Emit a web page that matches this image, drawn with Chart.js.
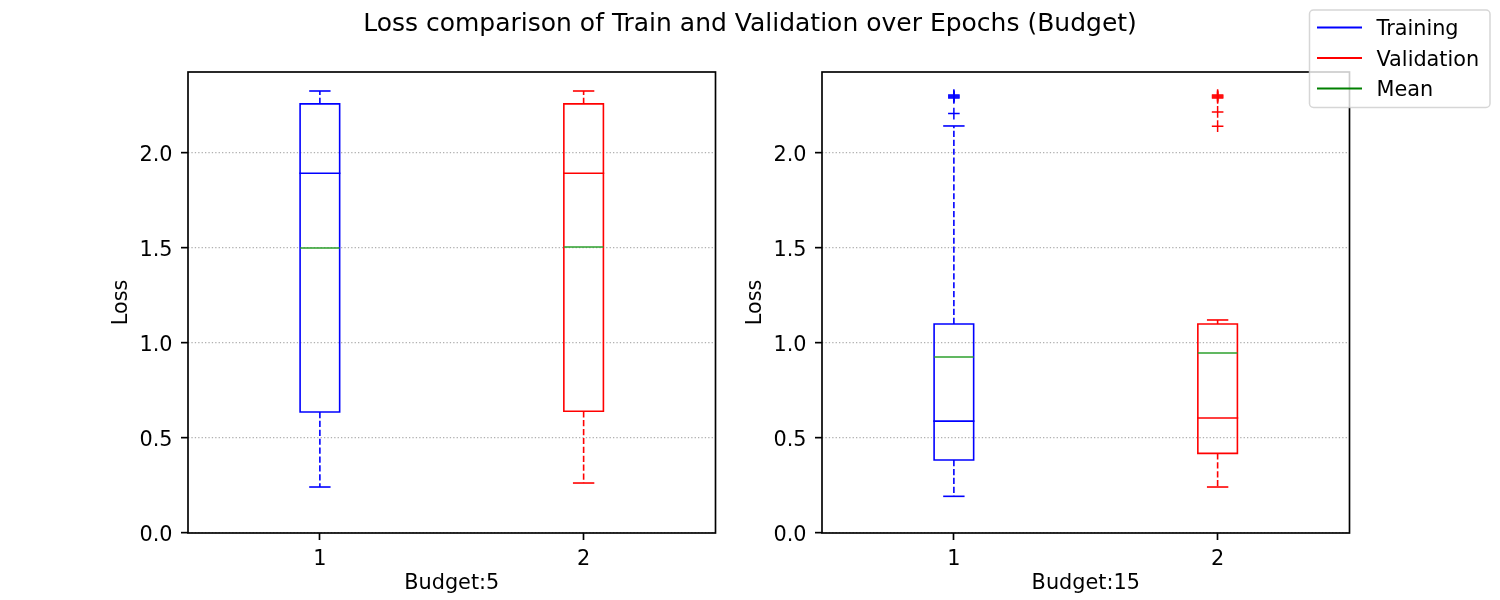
<!DOCTYPE html>
<html><head><meta charset="utf-8">
<script src="https://cdn.jsdelivr.net/npm/chart.js@4.4.0/dist/chart.umd.min.js"></script>
<style>
html,body{margin:0;padding:0;background:#fff;}
#wrap{position:relative;width:1500px;height:600px;overflow:hidden;background:#fff;}
canvas{position:absolute;left:0;top:0;}
</style></head><body>
<div id="wrap"><canvas id="c1" width="1500" height="600"></canvas><canvas id="c2" width="1500" height="600"></canvas></div>
<script>
// ---------------- data ----------------
const titleText = 'Loss comparison of Train and Validation over Epochs (Budget)';
const categories = [1, 2];
const categoryLabels = ['1', '2'];
const seriesNames = ['Training', 'Validation'];
const legendLabels = ['Training', 'Validation', 'Mean'];
const yTicks = [0, 0.5, 1.0, 1.5, 2.0];
const yLabel = 'Loss';
const xLabels = ['Budget:5', 'Budget:15'];

// Budget 5 (index 0 = Training, 1 = Validation)
const b5WhiskerLow  = [0.242, 0.263];
const b5Q1          = [0.637, 0.641];
const b5Median      = [1.893, 1.893];
const b5Q3          = [2.258, 2.258];
const b5WhiskerHigh = [2.326, 2.326];
const b5Mean        = [1.500, 1.505];
const b5TrainOutliers = [];
const b5ValOutliers   = [];

// Budget 15
const b15WhiskerLow  = [0.193, 0.242];
const b15Q1          = [0.384, 0.419];
const b15Median      = [0.589, 0.605];
const b15Q3          = [1.100, 1.100];
const b15WhiskerHigh = [2.142, 1.121];
const b15Mean        = [0.926, 0.947];
const b15TrainOutliers = [2.207, 2.289, 2.295, 2.300, 2.305];
const b15ValOutliers   = [2.141, 2.216, 2.289, 2.295, 2.300, 2.305];

// ---------------- styles ----------------
const Y_MIN = 0, Y_MAX = 2.426, X_MIN = 0.5, X_MAX = 2.5;
const BOX_WIDTH = 0.15, CAP_WIDTH = 0.075;
const SERIES_COLORS = ['#0000ff', '#ff0000'];
const MEAN_COLOR = '#2ca02c';
const LEGEND_COLORS = ['#0000ff', '#ff0000', '#008000'];
const FONT = 'DejaVu Sans';
const FS = 20.8;

Chart.defaults.font.family = FONT;
Chart.defaults.font.size = FS;
Chart.defaults.color = '#000';

function boxPlugin(stats) {
  return {
    id: 'boxes',
    afterDatasetsDraw(chart) {
      const {ctx, scales: {x, y}} = chart;
      ctx.save();
      for (let i = 0; i < categories.length; i++) {
        const c = SERIES_COLORS[i];
        const xc = x.getPixelForValue(categories[i]);
        const xl = x.getPixelForValue(categories[i] - BOX_WIDTH / 2);
        const xr = x.getPixelForValue(categories[i] + BOX_WIDTH / 2);
        const cl = x.getPixelForValue(categories[i] - CAP_WIDTH / 2);
        const cr = x.getPixelForValue(categories[i] + CAP_WIDTH / 2);
        const yLo = y.getPixelForValue(stats.lo[i]);
        const yQ1 = y.getPixelForValue(stats.q1[i]);
        const yMed = y.getPixelForValue(stats.med[i]);
        const yQ3 = y.getPixelForValue(stats.q3[i]);
        const yHi = y.getPixelForValue(stats.hi[i]);
        const yMean = y.getPixelForValue(stats.mean[i]);
        ctx.strokeStyle = c;
        // whiskers (dashed)
        ctx.lineWidth = 1.6;
        ctx.lineCap = 'butt';
        ctx.setLineDash([6.2, 2.7]);
        ctx.beginPath(); ctx.moveTo(xc, yQ1); ctx.lineTo(xc, yLo); ctx.stroke();
        ctx.beginPath(); ctx.moveTo(xc, yQ3); ctx.lineTo(xc, yHi); ctx.stroke();
        ctx.setLineDash([]);
        ctx.lineCap = 'square';
        ctx.lineWidth = 1.6;
        // caps
        ctx.beginPath(); ctx.moveTo(cl, yLo); ctx.lineTo(cr, yLo); ctx.stroke();
        ctx.beginPath(); ctx.moveTo(cl, yHi); ctx.lineTo(cr, yHi); ctx.stroke();
        // box
        ctx.lineJoin = 'miter';
        ctx.beginPath(); ctx.rect(xl, yQ3, xr - xl, yQ1 - yQ3); ctx.stroke();
        // median
        ctx.beginPath(); ctx.moveTo(xl, yMed); ctx.lineTo(xr, yMed); ctx.stroke();
        // mean
        ctx.strokeStyle = MEAN_COLOR;
        ctx.lineCap = 'butt';
        ctx.beginPath(); ctx.moveTo(xl, yMean); ctx.lineTo(xr, yMean); ctx.stroke();
      }
      ctx.restore();
    },
    afterDraw(chart) {
      const {ctx, chartArea: a} = chart;
      ctx.save();
      ctx.strokeStyle = '#000';
      ctx.lineWidth = 1.67;
      ctx.strokeRect(a.left, a.top, a.right - a.left, a.bottom - a.top);
      ctx.restore();
    }
  };
}

const titlePlugin = {
  id: 'figTitle',
  afterDraw(chart) {
    const ctx = chart.ctx;
    ctx.save();
    ctx.fillStyle = '#000';
    ctx.font = '25px "' + FONT + '"';
    ctx.textAlign = 'center';
    ctx.textBaseline = 'alphabetic';
    ctx.fillText(titleText, 750, 31);
    ctx.restore();
  }
};

const legendPlugin = {
  id: 'figLegend',
  afterDraw(chart) {
    const ctx = chart.ctx;
    ctx.save();
    ctx.beginPath();
    ctx.roundRect(1309.5, 10, 180.5, 97.5, 4);
    ctx.fillStyle = 'rgba(255,255,255,0.8)';
    ctx.fill();
    ctx.strokeStyle = 'rgba(204,204,204,0.8)';
    ctx.lineWidth = 1.5;
    ctx.stroke();
    ctx.font = FS + 'px "' + FONT + '"';
    ctx.textBaseline = 'alphabetic';
    ctx.textAlign = 'left';
    for (let i = 0; i < legendLabels.length; i++) {
      const ly = 27.5 + i * 30.5;
      ctx.strokeStyle = LEGEND_COLORS[i];
      ctx.lineWidth = 2;
      ctx.lineCap = 'butt';
      ctx.beginPath(); ctx.moveTo(1317, ly); ctx.lineTo(1362, ly); ctx.stroke();
      ctx.fillStyle = '#000';
      ctx.fillText(legendLabels[i], 1376.5, ly + 7.6);
    }
    ctx.restore();
  }
};

function outlierDatasets(lists) {
  return lists.map((vals, i) => ({
    label: seriesNames[i] + ' outliers',
    data: vals.map(v => ({x: categories[i], y: v})),
    pointStyle: 'cross',
    pointRadius: 5.8,
    pointBorderWidth: 1.5,
    pointBorderColor: SERIES_COLORS[i],
    pointBackgroundColor: SERIES_COLORS[i],
    showLine: false
  }));
}

function makeChart(id, xLabel, stats, outliers, padLeft, padRight, extraPlugins) {
  return new Chart(document.getElementById(id), {
    type: 'scatter',
    data: {datasets: outlierDatasets(outliers)},
    options: {
      responsive: false,
      animation: false,
      devicePixelRatio: 1,
      layout: {padding: {left: padLeft, right: padRight, top: 72, bottom: 0}},
      plugins: {legend: {display: false}, tooltip: {enabled: false}, title: {display: false}},
      scales: {
        x: {
          type: 'linear', min: X_MIN, max: X_MAX,
          afterBuildTicks: s => { s.ticks = categories.map(v => ({value: v})); },
          afterFit: s => { s.height = 67; },
          ticks: {padding: 7, callback: (v) => categoryLabels[categories.indexOf(v)], maxRotation: 0, color: '#000', font: {size: FS}},
          grid: {drawOnChartArea: false, drawTicks: true, tickLength: 7, tickColor: '#000', tickWidth: 1.67},
          border: {display: false},
          title: {display: true, text: xLabel, color: '#000', font: {size: FS}, padding: {top: 4, bottom: 4}}
        },
        y: {
          type: 'linear', min: Y_MIN, max: Y_MAX,
          afterBuildTicks: s => { s.ticks = yTicks.map(v => ({value: v})); },
          afterFit: s => { s.width = 82.5; },
          ticks: {padding: 8.5, labelOffset: 2.5, callback: v => Number(v).toFixed(1), color: '#000', font: {size: FS}},
          grid: {color: '#b0b0b0', lineWidth: 1.3, drawTicks: true, tickLength: 7, tickColor: '#000', tickWidth: 1.67, tickBorderDash: []},
          border: {display: false, dash: [1.3, 2.1]},
          title: {display: true, text: yLabel, color: '#000', font: {size: FS}, padding: {top: 4, bottom: 4}}
        }
      }
    },
    plugins: [boxPlugin(stats)].concat(extraPlugins)
  });
}

makeChart('c1', xLabels[0],
  {lo: b5WhiskerLow, q1: b5Q1, med: b5Median, q3: b5Q3, hi: b5WhiskerHigh, mean: b5Mean},
  [b5TrainOutliers, b5ValOutliers], 105.5, 784.5, [titlePlugin]);
makeChart('c2', xLabels[1],
  {lo: b15WhiskerLow, q1: b15Q1, med: b15Median, q3: b15Q3, hi: b15WhiskerHigh, mean: b15Mean},
  [b15TrainOutliers, b15ValOutliers], 739.5, 150.5, [legendPlugin]);
</script>
</body></html>
